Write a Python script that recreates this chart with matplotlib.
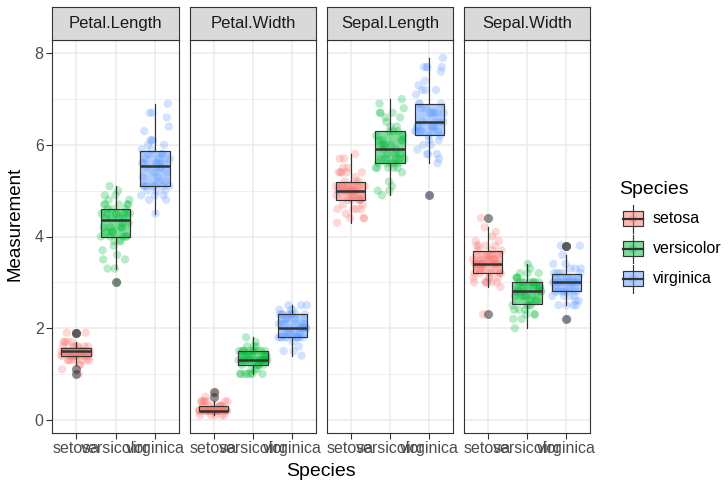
import numpy as np
import matplotlib
matplotlib.use("Agg")
import matplotlib.pyplot as plt
from matplotlib.patches import Rectangle

plt.rcParams['font.family'] = ['Liberation Sans', 'DejaVu Sans']

# iris data
species = ['setosa', 'versicolor', 'virginica']
colores = ['#F8766D', '#00BA38', '#619CFF']

sepal_length = [
    5.1, 4.9, 4.7, 4.6, 5.0, 5.4, 4.6, 5.0, 4.4, 4.9, 5.4, 4.8, 4.8, 4.3, 5.8, 5.7, 5.4, 5.1, 5.7, 5.1,
    5.4, 5.1, 4.6, 5.1, 4.8, 5.0, 5.0, 5.2, 5.2, 4.7, 4.8, 5.4, 5.2, 5.5, 4.9, 5.0, 5.5, 4.9, 4.4, 5.1,
    5.0, 4.5, 4.4, 5.0, 5.1, 4.8, 5.1, 4.6, 5.3, 5.0,
    7.0, 6.4, 6.9, 5.5, 6.5, 5.7, 6.3, 4.9, 6.6, 5.2, 5.0, 5.9, 6.0, 6.1, 5.6, 6.7, 5.6, 5.8, 6.2, 5.6,
    5.9, 6.1, 6.3, 6.1, 6.4, 6.6, 6.8, 6.7, 6.0, 5.7, 5.5, 5.5, 5.8, 6.0, 5.4, 6.0, 6.7, 6.3, 5.6, 5.5,
    5.5, 6.1, 5.8, 5.0, 5.6, 5.7, 5.7, 6.2, 5.1, 5.7,
    6.3, 5.8, 7.1, 6.3, 6.5, 7.6, 4.9, 7.3, 6.7, 7.2, 6.5, 6.4, 6.8, 5.7, 5.8, 6.4, 6.5, 7.7, 7.7, 6.0,
    6.9, 5.6, 7.7, 6.3, 6.7, 7.2, 6.2, 6.1, 6.4, 7.2, 7.4, 7.9, 6.4, 6.3, 6.1, 7.7, 6.3, 6.4, 6.0, 6.9,
    6.7, 6.9, 5.8, 6.8, 6.7, 6.7, 6.3, 6.5, 6.2, 5.9]
sepal_width = [
    3.5, 3.0, 3.2, 3.1, 3.6, 3.9, 3.4, 3.4, 2.9, 3.1, 3.7, 3.4, 3.0, 3.0, 4.0, 4.4, 3.9, 3.5, 3.8, 3.8,
    3.4, 3.7, 3.6, 3.3, 3.4, 3.0, 3.4, 3.5, 3.4, 3.2, 3.1, 3.4, 4.1, 4.2, 3.1, 3.2, 3.5, 3.6, 3.0, 3.4,
    3.5, 2.3, 3.2, 3.5, 3.8, 3.0, 3.8, 3.2, 3.7, 3.3,
    3.2, 3.2, 3.1, 2.3, 2.8, 2.8, 3.3, 2.4, 2.9, 2.7, 2.0, 3.0, 2.2, 2.9, 2.9, 3.1, 3.0, 2.7, 2.2, 2.5,
    3.2, 2.8, 2.5, 2.8, 2.9, 3.0, 2.8, 3.0, 2.9, 2.6, 2.4, 2.4, 2.7, 2.7, 3.0, 3.4, 3.1, 2.3, 3.0, 2.5,
    2.6, 3.0, 2.6, 2.3, 2.7, 3.0, 2.9, 2.9, 2.5, 2.8,
    3.3, 2.7, 3.0, 2.9, 3.0, 3.0, 2.5, 2.9, 2.5, 3.6, 3.2, 2.7, 3.0, 2.5, 2.8, 3.2, 3.0, 3.8, 2.6, 2.2,
    3.2, 2.8, 2.8, 2.7, 3.3, 3.2, 2.8, 3.0, 2.8, 3.0, 2.8, 3.8, 2.8, 2.8, 2.6, 3.0, 3.4, 3.1, 3.0, 3.1,
    3.1, 3.1, 2.7, 3.2, 3.3, 3.0, 2.5, 3.0, 3.4, 3.0]
petal_length = [
    1.4, 1.4, 1.3, 1.5, 1.4, 1.7, 1.4, 1.5, 1.4, 1.5, 1.5, 1.6, 1.4, 1.1, 1.2, 1.5, 1.3, 1.4, 1.7, 1.5,
    1.7, 1.5, 1.0, 1.7, 1.9, 1.6, 1.6, 1.5, 1.4, 1.6, 1.6, 1.5, 1.5, 1.4, 1.5, 1.2, 1.3, 1.4, 1.3, 1.5,
    1.3, 1.3, 1.3, 1.6, 1.9, 1.4, 1.6, 1.4, 1.5, 1.4,
    4.7, 4.5, 4.9, 4.0, 4.6, 4.5, 4.7, 3.3, 4.6, 3.9, 3.5, 4.2, 4.0, 4.7, 3.6, 4.4, 4.5, 4.1, 4.5, 3.9,
    4.8, 4.0, 4.9, 4.7, 4.3, 4.4, 4.8, 5.0, 4.5, 3.5, 3.8, 3.7, 3.9, 5.1, 4.5, 4.5, 4.7, 4.4, 4.1, 4.0,
    4.4, 4.6, 4.0, 3.3, 4.2, 4.2, 4.2, 4.3, 3.0, 4.1,
    6.0, 5.1, 5.9, 5.6, 5.8, 6.6, 4.5, 6.3, 5.8, 6.1, 5.1, 5.3, 5.5, 5.0, 5.1, 5.3, 5.5, 6.7, 6.9, 5.0,
    5.7, 4.9, 6.7, 4.9, 5.7, 6.0, 4.8, 4.9, 5.6, 5.8, 6.1, 6.4, 5.6, 5.1, 5.6, 6.1, 5.6, 5.5, 4.8, 5.4,
    5.6, 5.1, 5.1, 5.9, 5.7, 5.2, 5.0, 5.2, 5.4, 5.1]
petal_width = [
    0.2, 0.2, 0.2, 0.2, 0.2, 0.4, 0.3, 0.2, 0.2, 0.1, 0.2, 0.2, 0.1, 0.1, 0.2, 0.4, 0.4, 0.3, 0.3, 0.3,
    0.2, 0.4, 0.2, 0.5, 0.2, 0.2, 0.4, 0.2, 0.2, 0.2, 0.2, 0.4, 0.1, 0.2, 0.2, 0.2, 0.2, 0.1, 0.2, 0.2,
    0.3, 0.3, 0.2, 0.6, 0.4, 0.3, 0.2, 0.2, 0.2, 0.2,
    1.4, 1.5, 1.5, 1.3, 1.5, 1.3, 1.6, 1.0, 1.3, 1.4, 1.0, 1.5, 1.0, 1.4, 1.3, 1.4, 1.5, 1.0, 1.5, 1.1,
    1.8, 1.3, 1.5, 1.2, 1.3, 1.4, 1.4, 1.7, 1.5, 1.0, 1.1, 1.0, 1.2, 1.6, 1.5, 1.6, 1.5, 1.3, 1.3, 1.3,
    1.2, 1.4, 1.2, 1.0, 1.3, 1.2, 1.3, 1.3, 1.1, 1.3,
    2.5, 1.9, 2.1, 1.8, 2.2, 2.1, 1.7, 1.8, 1.8, 2.5, 2.0, 1.9, 2.1, 2.0, 2.4, 2.3, 1.8, 2.2, 2.3, 1.5,
    2.3, 2.0, 2.0, 1.8, 2.1, 1.8, 1.8, 1.8, 2.1, 1.6, 1.9, 2.0, 2.2, 1.5, 1.4, 2.3, 2.4, 1.8, 1.8, 2.1,
    2.4, 2.3, 1.9, 2.3, 2.5, 2.3, 1.9, 2.0, 2.3, 1.8]

facetas = ['Petal.Length', 'Petal.Width', 'Sepal.Length', 'Sepal.Width']
medidas = [petal_length, petal_width, sepal_length, sepal_width]
y_ticks = [0, 2, 4, 6, 8]

W, H = 728, 483

def rect(x0, y0, x1, y1):
    # pixel box -> figure fraction
    return [x0 / W, 1 - y1 / H, (x1 - x0) / W, (y1 - y0) / H]

paneles_x = [(52, 179), (190, 316), (327, 453), (464, 590)]
borde = '#333333'

fig = plt.figure(figsize=(W / 100, H / 100), dpi=100)

todos = np.concatenate([np.array(m) for m in medidas])
rango = todos.max() - todos.min()
ylim = (todos.min() - 0.05 * rango, todos.max() + 0.05 * rango)

n_sp = len(species)
grupo = np.repeat(np.arange(n_sp), len(sepal_length) // n_sp)
# deterministic horizontal spread for the jittered points
k = np.arange(len(sepal_length))
desplaz = ((k * 0.6180339) % 1.0 - 0.5) * 0.74

for idx, (nombre, valores) in enumerate(zip(facetas, medidas)):
    x0, x1 = paneles_x[idx]
    ax = fig.add_axes(rect(x0, 40, x1, 433))
    valores = np.array(valores)

    # jittered points
    for g in range(n_sp):
        m = grupo == g
        ax.scatter(g + 1 + desplaz[m], valores[m], s=36, color=colores[g],
                   alpha=0.28, edgecolors='none', zorder=2)

    # boxplots on top
    datos = [valores[grupo == g] for g in range(n_sp)]
    bp = ax.boxplot(datos, positions=range(1, n_sp + 1), widths=0.75,
                    patch_artist=True, showcaps=False, whis=1.5,
                    boxprops=dict(edgecolor=borde, linewidth=0.85),
                    whiskerprops=dict(color=borde, linewidth=0.85),
                    medianprops=dict(color=borde, linewidth=1.8),
                    flierprops=dict(marker='o', markerfacecolor=borde,
                                    markeredgecolor='none', markersize=6.5, alpha=0.55),
                    zorder=3)
    for caja, c in zip(bp['boxes'], colores):
        caja.set_facecolor(matplotlib.colors.to_rgba(c, 0.5))

    ax.set_xlim(0.4, n_sp + 0.6)
    ax.set_ylim(*ylim)
    ax.set_yticks(y_ticks)
    ax.set_yticks([1, 3, 5, 7], minor=True)
    ax.set_xticks(range(1, n_sp + 1))
    ax.set_xticklabels(species)
    ax.grid(True, which='major', color='#EBEBEB', lw=1.1, zorder=0)
    ax.grid(True, which='minor', axis='y', color='#EBEBEB', lw=0.55, zorder=0)
    ax.set_axisbelow(True)
    for s in ax.spines.values():
        s.set_color(borde)
        s.set_linewidth(0.8)
    ax.tick_params(axis='both', which='major', length=4, width=0.8, color=borde,
                   labelsize=11.5, labelcolor='#4D4D4D', pad=2)
    ax.tick_params(axis='y', which='minor', length=0)
    if idx > 0:
        ax.tick_params(axis='y', which='major', length=0, labelleft=False)

    # strip
    st = fig.add_axes(rect(x0, 7, x1, 40))
    st.set_xticks([])
    st.set_yticks([])
    st.set_facecolor('#D9D9D9')
    for s in st.spines.values():
        s.set_color(borde)
        s.set_linewidth(0.8)
    st.text(0.5, 0.5, nombre, ha='center', va='center', fontsize=12,
            color='#1A1A1A', transform=st.transAxes)

fig.text(15 / W, 1 - 224 / H, 'Measurement', rotation=90, ha='center', va='center',
         fontsize=13.5, color='black')
fig.text(321 / W, 1 - 472 / H, 'Species', ha='center', va='center',
         fontsize=14, color='black')

# legend drawn by hand in pixel coordinates
lg = fig.add_axes(rect(600, 170, 728, 295))
lg.set_xlim(600, 728)
lg.set_ylim(295, 170)
lg.axis('off')
lg.text(619, 189, 'Species', ha='left', va='center', fontsize=14, color='black')
for i, (sp, c) in enumerate(zip(species, colores)):
    cy = 219 + 29.8 * i
    lg.plot([633, 633], [cy - 14, cy + 14], color=borde, lw=0.85, zorder=1)
    lg.scatter([633], [cy], s=36, color=c, alpha=0.28, edgecolors='none', zorder=2)
    lg.add_patch(Rectangle((623, cy - 7.5), 20, 15, facecolor=matplotlib.colors.to_rgba(c, 0.5),
                           edgecolor=borde, lw=0.85, zorder=3))
    lg.plot([623, 643], [cy, cy], color=borde, lw=1.6, zorder=4)
    lg.text(653, cy, sp, ha='left', va='center', fontsize=11.5, color='black')

fig.savefig('out.png', dpi=100)
